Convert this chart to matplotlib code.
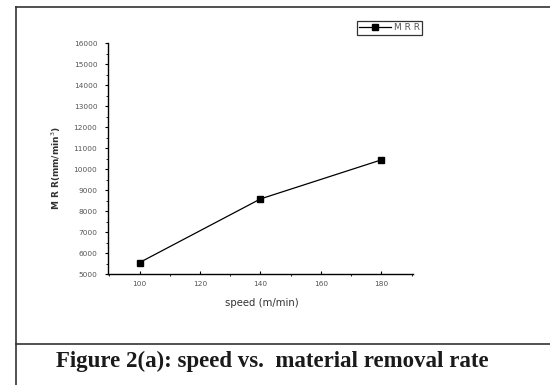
import matplotlib.pyplot as plt
from matplotlib.ticker import MultipleLocator
from matplotlib.lines import Line2D

# data
speed = [100, 140, 180]
mrr = [5550, 8580, 10440]
series_label = 'M R R'
x_ticks = [100, 120, 140, 160, 180]
y_ticks = list(range(5000, 16001, 1000))

fig = plt.figure(figsize=(5.5, 3.85), dpi=100)
fig.patch.set_facecolor('white')

ax = fig.add_axes([0.196, 0.288, 0.555, 0.60])
ax.plot(speed, mrr, color='black', lw=0.9, marker='s', ms=4, label=series_label)

ax.set_xlim(89.5, 190.5)
ax.set_ylim(5000, 16000)
ax.set_xticks(x_ticks)
ax.set_yticks(y_ticks)
ax.xaxis.set_minor_locator(MultipleLocator(10))
ax.yaxis.set_minor_locator(MultipleLocator(500))
for s in ['top', 'right']:
    ax.spines[s].set_visible(False)
for s in ['left', 'bottom']:
    ax.spines[s].set_linewidth(1.0)
ax.tick_params(axis='both', which='major', labelsize=5.3, length=2.5, width=0.8,
               labelcolor='#555555', pad=5)
ax.tick_params(axis='both', which='minor', length=1.5, width=0.6)
ax.tick_params(axis='y', direction='out')
ax.tick_params(axis='x', direction='in')

ax.set_xlabel('speed (m/min)', fontsize=7.3, color='#333333')
ax.xaxis.set_label_coords(0.505, -0.105)
ax.set_ylabel('M R R(mm/min$^3$)', fontsize=6.5, color='#333333', fontweight='bold')
ax.yaxis.set_label_coords(-0.148, 0.46)

leg = ax.legend(loc='upper right', bbox_to_anchor=(1.045, 1.115), fontsize=6.5,
                frameon=True, fancybox=False, edgecolor='black', handlelength=3.6,
                borderpad=0.25, handletextpad=0.3, labelcolor='#555555')
leg.get_frame().set_linewidth(0.9)

# outer frame of the figure
fig.add_artist(Line2D([16/550, 16/550], [0, 1 - 7/385], color='#333333', lw=1.2,
                      transform=fig.transFigure))
fig.add_artist(Line2D([16/550, 1], [1 - 7/385, 1 - 7/385], color='#333333', lw=1.2,
                      transform=fig.transFigure))
fig.add_artist(Line2D([16/550, 1], [1 - 344/385, 1 - 344/385], color='#333333', lw=1.2,
                      transform=fig.transFigure))

fig.text(272/550, 1 - 361/385, 'Figure 2(a): speed vs.  material removal rate',
         ha='center', va='center', fontsize=16.5, fontweight='bold',
         family='Liberation Serif', color='#1a1a1a')

fig.savefig('out.png', dpi=100)
